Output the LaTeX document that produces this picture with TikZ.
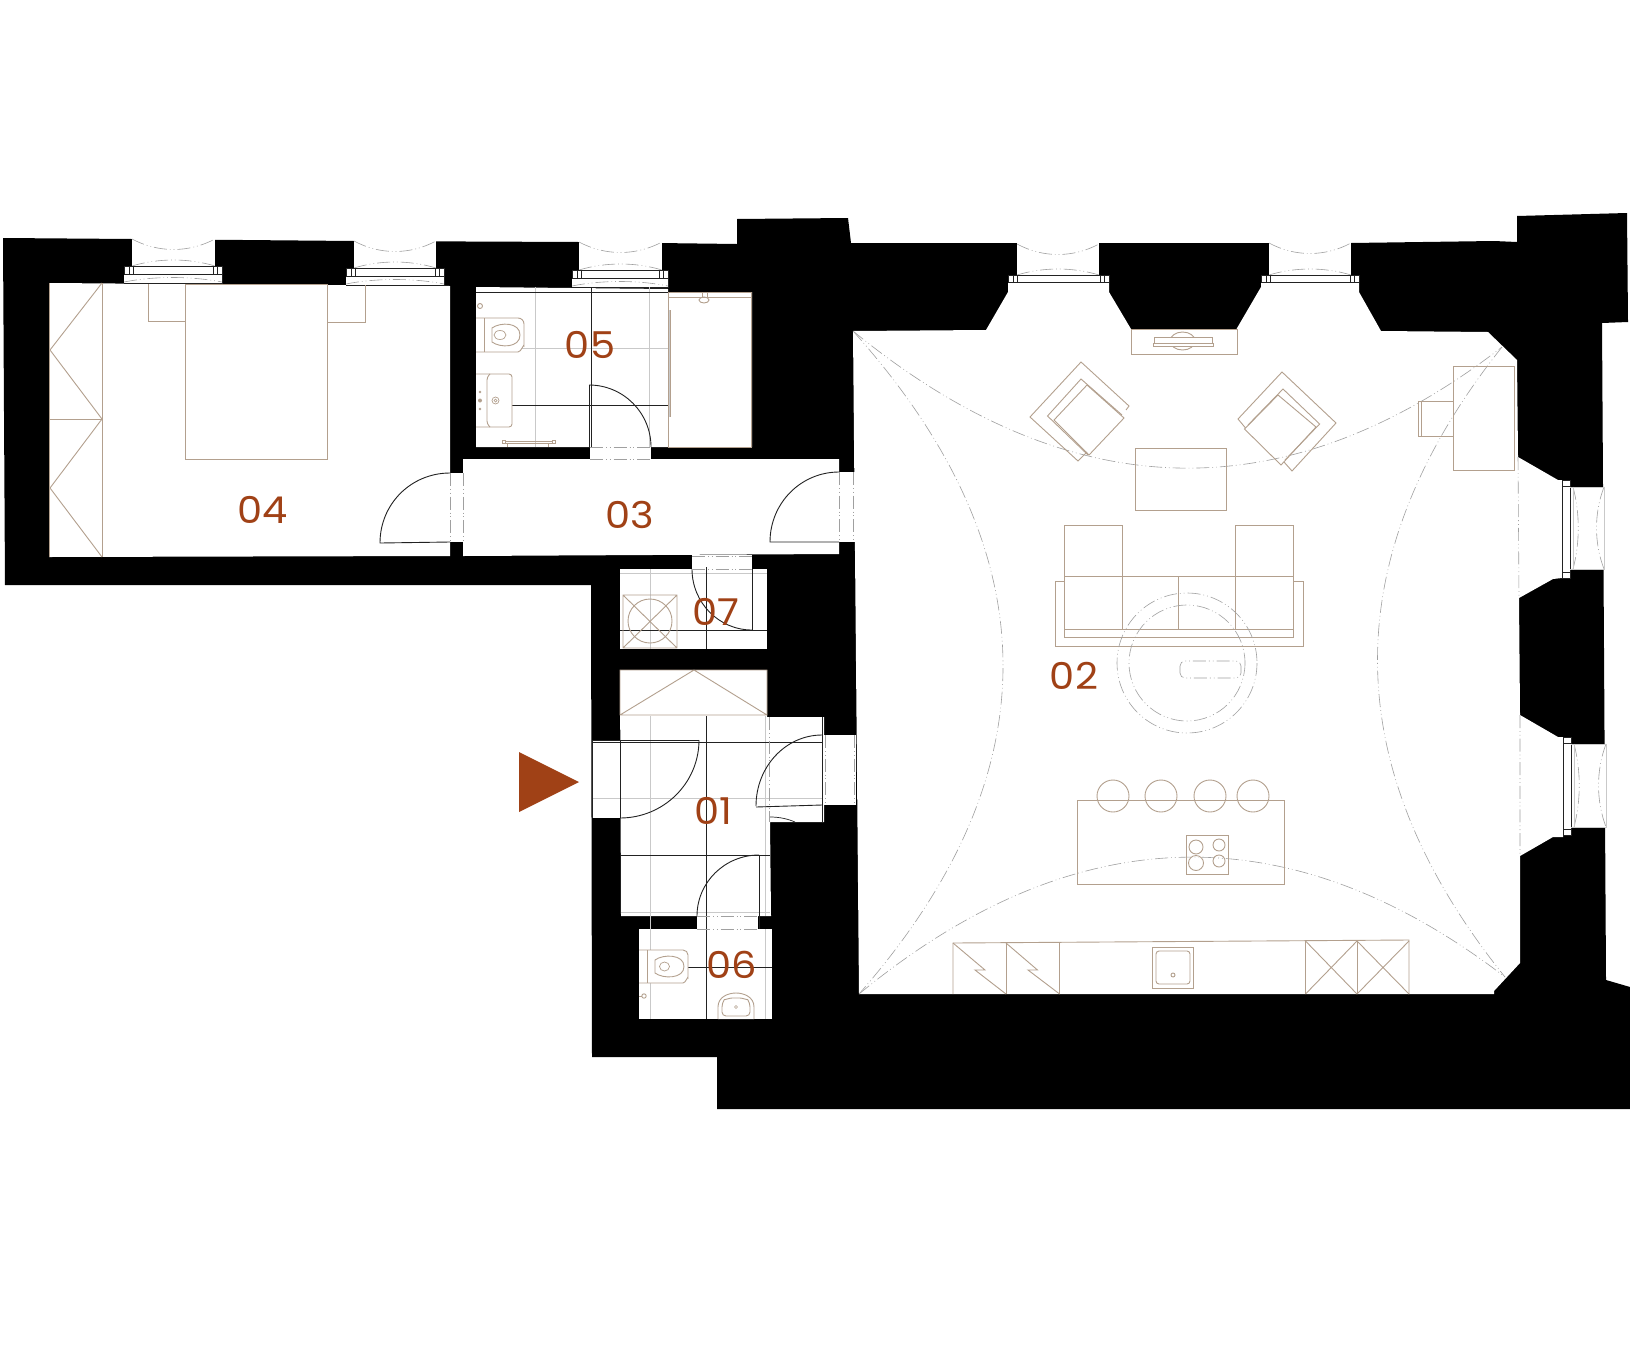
\documentclass[tikz,border=0pt]{standalone}
\usepackage{fontspec}
\usetikzlibrary{calc}
\newfontfamily\lblfont{Poppins}
\definecolor{rust}{HTML}{A04116}
\definecolor{tanc}{HTML}{B3A08E}
\definecolor{greyc}{HTML}{C9C9C9}
\definecolor{darkc}{HTML}{222222}
\definecolor{ddc}{HTML}{A0A0A0}
\tikzset{
  tanl/.style={draw=tanc,line width=0.9pt,line join=miter},
  greyl/.style={draw=greyc,line width=0.9pt},
  darkl/.style={draw=darkc,line width=0.9pt},
  ddl/.style={draw=ddc,line width=0.6pt,dash pattern=on 13pt off 3pt on 0.8pt off 3pt on 0.8pt off 3pt},
  roomlabel/.style={text=rust,font=\lblfont\fontsize{37}{40}\selectfont,inner sep=0pt,anchor=center,xscale=1.08},
  wallfill/.style={fill=black,draw=none},
  roomfill/.style={fill=white,draw=none}
}
% quarter arc from a to b around c
\newcommand{\qarc}[6]{%
  \coordinate (qa) at (#1,#2);\coordinate (qb) at (#3,#4);\coordinate (qc) at (#5,#6);
  \draw[darkl] (qa) .. controls ($(qa)+0.5523*(qb)-0.5523*(qc)$) and ($(qb)+0.5523*(qa)-0.5523*(qc)$) .. (qb);}
% top window: frame l r, reveal l r, reveal top, frame top, bar bottom, frame bottom
\newcommand{\topwin}[8]{%
  \fill[white] (#3,#5-4) rectangle (#4,#6);
  \fill[white] (#1,#6) rectangle (#2,#8);
  \pgfmathsetmacro{\wm}{(#3+#4)/2}
  \draw[ddl] (#3,#5) .. controls (\wm-15,#5+14) and (\wm+15,#5+14) .. (#4,#5);
  \draw[ddl] (#3,#6) .. controls (\wm-15,#6-8) and (\wm+15,#6-8) .. (#4,#6);
  \draw[darkl] (#1,#6) rectangle (#2,#7);
  \draw[darkl,line width=0.7pt] (#1+5,#6) -- (#1+5,#7) (#1+9,#6) -- (#1+9,#7) (#2-9,#6) -- (#2-9,#7) (#2-5,#6) -- (#2-5,#7);
}
% right window: reveal y top bottom, frame y top bottom, frame x l r, reveal x l r
\newcommand{\sidewin}[8]{%
  \fill[white] (#6,#1) rectangle (#8+2,#2);
  \fill[white] (#5,#3) rectangle (#6,#4);
  \pgfmathsetmacro{\wm}{(#1+#2)/2}
  \draw[ddl] (#7,#1) .. controls (#7+7,\wm-15) and (#7+7,\wm+15) .. (#7,#2);
  \draw[ddl] (#8,#1) .. controls (#8-10,\wm-15) and (#8-10,\wm+15) .. (#8,#2);
  \draw[darkl] (#5,#3) rectangle (#6,#4);
  \draw[darkl,line width=0.7pt] (#5,#3+6) -- (#6,#3+6) (#5,#4-6) -- (#6,#4-6);
  \draw[greyl] (#6,#1) -- (#8,#1) -- (#8,#2) -- (#6,#2) (#7,#1) -- (#7,#2);
}
\begin{document}
\begin{tikzpicture}[x=1pt,y=-1pt]
\useasboundingbox (0,0) rectangle (1630,1360);
\fill[white] (0,0) rectangle (1630,1360);
% ---- walls ----
\path[wallfill] (3,238) -- (132,239) -- (354,241) -- (579,242) -- (737,244) -- (737,219) -- (848,218) -- (851,243)
  -- (1351,243) -- (1494,241) -- (1517,242) -- (1517,216) -- (1627,213) -- (1628,322) -- (1602,323) -- (1606,980)
  -- (1630,987) -- (1630,1109) -- (717,1109) -- (717,1057) -- (592,1057) -- (591,585) -- (5,585) -- cycle;
% ---- rooms ----
\path[roomfill] (49,283) -- (450,286) -- (450,556) -- (49,557) -- cycle;
\path[roomfill] (449,473) rectangle (464,542);
\path[roomfill] (463,459) -- (839,459) -- (839,554) -- (463,556) -- cycle;
\path[roomfill] (838,472) rectangle (855,542);
\path[roomfill] (476,287) -- (668,289) -- (668,292) -- (752,292) -- (752,447) -- (476,447) -- cycle;
\path[roomfill] (590,446) rectangle (651,460);
\path[roomfill] (692,555) rectangle (752,570);
\path[roomfill] (620,569) rectangle (767,649);
\path[roomfill] (620,670) -- (767,670) -- (767,717) -- (824,717) -- (824,822) -- (770,822) -- (771,916) -- (621,916) -- cycle;
\path[roomfill] (591.5,740) rectangle (621,818);
\path[roomfill] (823,735) rectangle (856,805);
\path[roomfill] (697,915) rectangle (758,930);
\path[roomfill] (639,929) rectangle (772,1019);
\path[roomfill] (853,331) -- (986,330) -- (1008,292) -- (1008,282) -- (1109,282) -- (1109,292) -- (1131,329) -- (1236.5,329)
  -- (1261,287) -- (1261,282) -- (1359,282) -- (1359,292) -- (1381,331) -- (1488,332) -- (1517,360) -- (1518,457)
  -- (1558,480) -- (1562,480) -- (1562,578) -- (1553,579) -- (1519,598) -- (1520,715) -- (1558,737) -- (1563,737)
  -- (1563,837) -- (1553,837) -- (1520,856) -- (1520,963) -- (1494,991) -- (1494,994) -- (859,994) -- cycle;
% ---- windows ----
\topwin{124}{222}{132}{215}{239}{266}{274}{283}
\draw[ddl] (124,282) .. controls (155,276) and (190,276) .. (222,282);
\draw[darkl] (124,283) -- (222,283) -- (222,274);
\topwin{346}{444}{354}{436}{241}{268}{276}{285}
\draw[ddl] (346,284) .. controls (376,278) and (414,278) .. (444,284);
\draw[darkl] (346,285) -- (444,285) -- (444,276);
\topwin{572}{668}{579}{662}{242}{270}{278}{287}
\draw[ddl] (572,286) .. controls (602,280) and (638,280) .. (668,286);
\draw[darkl] (572,287) -- (668,287) -- (668,278);
\topwin{1008}{1109}{1017}{1099}{244}{275}{282}{282}
\topwin{1261}{1359}{1269}{1351}{243}{275}{282}{282}
\sidewin{487}{569}{480}{578}{1562}{1570}{1573}{1604}
\sidewin{744}{827}{737}{835}{1563}{1571}{1574}{1606}
% ---- floor grid lines ----
\draw[greyl] (535,287) -- (535,447) (649,287) -- (649,447) (476,348) -- (668,348);
\draw[darkl] (476,292) -- (668,292) (512,405) -- (668,405) (591,287) -- (591,447);
\draw[greyl] (650,569) -- (650,649) (620,573) -- (767,573) (650,716) -- (650,1019)
  (765,716) -- (765,916) (765,929) -- (765,1019) (592,798) -- (822,798) (621,912) -- (770,912);
\draw[darkl] (706,567) -- (706,649) (620,630) -- (767,630) (706,716) -- (706,1019)
  (592,742) -- (822,742) (621,855) -- (770,855) (688,967) -- (772,967)
  (620,740) -- (620,818) (592,740) -- (592,818) (822,717) -- (822,822) (759,855) -- (759,929);
% ---- doors ----
\draw[darkl] (450,473) .. controls (411,473) and (380,504) .. (380,543) -- (450,542);
\draw[darkl] (839,472) .. controls (801,472) and (770,503) .. (770,542) -- (839,542);
\draw[darkl] (589,447) -- (589,385);
\qarc{589}{385}{651}{447}{589}{447}
\draw[darkl] (752,569) -- (752,630);
\qarc{752}{630}{692}{569}{752}{569}
\draw[darkl] (592,740) -- (699,740);
\qarc{699}{740}{620}{818}{620}{740}
\draw[darkl] (756,807) -- (822,805);
\qarc{822}{735}{756}{806}{822}{806}
\draw[darkl,line width=0.7pt] (770,817) .. controls (780,817) and (788,819) .. (795,822);
\qarc{759}{855}{697}{916}{759}{916}
% door thresholds
\draw[ddl] (450,473) -- (450,542) (463,473) -- (463,542);
\draw[ddl] (839,472) -- (839,542) (853,472) -- (853,542);
\draw[ddl] (590,447) -- (651,447) (590,459) -- (651,459);
\draw[ddl] (692,556) -- (752,556) (692,569) -- (752,569);
\draw[ddl] (769,717) -- (769,822) (825,735) -- (825,805) (854,735) -- (854,805);
\draw[ddl] (697,916) -- (758,916) (697,929) -- (758,929);
% ---- bedroom furniture ----
\draw[tanl] (49,283) -- (49,557) (102,283) -- (102,557) (49,419) -- (102,419);
\draw[tanl] (102,283) -- (50,350) -- (102,419) -- (50,488) -- (102,557);
\draw[tanl] (185.5,284) rectangle (327.5,459);
\draw[tanl] (148,284) -- (148,321) -- (185.5,321);
\draw[tanl] (327.5,322) -- (365,322) -- (365,285);
% ---- bathroom ----
\draw[tanl,fill=white] (476,318) -- (518,318) to[out=0,in=90] (524,324) -- (524,346) to[out=90,in=0] (518,352) -- (476,352);
\draw[tanl] (484,318) -- (484,352);
\draw[tanl] (492,328) .. controls (500,322) and (520,322) .. (520,335) .. controls (520,348) and (500,348) .. (492,342) -- cycle;
\draw[tanl,line width=0.7pt] (500,335) ellipse [x radius=6,y radius=4.5];
\draw[tanl] (480,306) circle [radius=2.5];
\draw[tanl,fill=white,rounded corners=3pt] (476,374) -- (512,374) -- (512,427) -- (476,427);
\draw[tanl,rounded corners=3pt] (490,374) -- (487,377) -- (487,424) -- (490,427);
\fill[tanc] (480,392) circle [radius=1.3] (480,400.5) circle [radius=2] (480,409) circle [radius=1.3];
\draw[tanl,line width=0.7pt] (495.5,400.5) circle [radius=3.5] (495.5,400.5) circle [radius=1.5];
\draw[tanl,line width=0.7pt] (502,440) rectangle (505,443.5) (552,440) rectangle (555,443.5) (505,441) -- (552,441) (505,443) -- (552,443) (507,443.5) -- (507,447) (548,443.5) -- (548,447);
\draw[tanl] (668,292) -- (668,447) -- (751.5,447) -- (751.5,292) -- cycle (668,297) -- (751.5,297);
\draw[greyl] (669,310) -- (669,417);
\draw[tanl] (670,310) -- (670,417);
\draw[tanl,fill=white] (704,300) ellipse [x radius=5,y radius=3];
\draw[tanl,line width=0.7pt] (702,292) rectangle (707,297);
% ---- washer ----
\draw[tanl] (623,595) rectangle (677,648) (623,595) -- (677,648) (677,595) -- (623,648);
\draw[tanl] (650,621) circle [radius=22];
% ---- hall closet ----
\draw[tanl] (620,670) rectangle (767,715) (620,715) -- (694,670) -- (767,715);
% ---- WC ----
\draw[tanl,fill=white] (639,950) -- (683,950) to[out=0,in=90] (688,955) -- (688,978) to[out=90,in=0] (683,983) -- (639,983);
\draw[tanl] (647,950) -- (647,983);
\draw[tanl] (655,960) .. controls (663,954) and (684,954) .. (684,966.5) .. controls (684,979) and (663,979) .. (655,973) -- cycle;
\draw[tanl,line width=0.7pt] (664.5,966.5) ellipse [x radius=5,y radius=4.5];
\draw[tanl] (644,996) circle [radius=2.2];
\draw[tanl] (639,996) -- (642,996);
\draw[tanl,fill=white] (718,1019) -- (718,1007) .. controls (718,997) and (728,993) .. (736,993) .. controls (744,993) and (754,997) .. (754,1007) -- (754,1019);
\draw[tanl,rounded corners=4pt] (722,1016) -- (722,1003) .. controls (724,1000) and (730,998) .. (736,998) .. controls (742,998) and (748,1000) .. (750,1003) -- (750,1016) -- cycle;
\draw[tanl,line width=0.6pt] (736,1007) circle [radius=1.5];
% ---- vault lines ----
\draw[ddl] (853,331) .. controls (1069,508) and (1286,514) .. (1502,347);
\draw[ddl] (859,994) .. controls (1074,817) and (1290,812) .. (1505,977);
\draw[ddl] (853,331) .. controls (1051,552) and (1053,773) .. (859,994);
\draw[ddl] (1502,347) .. controls (1335,557) and (1336,767) .. (1505,977);
\draw[ddl] (1518,457) -- (1519,598) (1520,715) -- (1520,856);
% ---- TV unit ----
\draw[tanl] (1131,329) rectangle (1237.5,354);
\draw[tanl] (1182.6,341) ellipse [x radius=12.5,y radius=9];
\draw[tanl,fill=white] (1153,343) rectangle (1213,346);
\draw[tanl,fill=white] (1154,343) -- (1154,337) -- (1212,337) -- (1212,343) -- cycle;
% ---- armchairs ----
\draw[tanl] (1126,410) -- (1129,406) -- (1081,362) -- (1030,417) -- (1078,461) -- (1087,452);
\draw[tanl] (1122,415) -- (1081,379) -- (1047.5,416) -- (1088,455);
\draw[tanl] (1054,420) -- (1087,385) -- (1124,418) -- (1089,455) -- cycle;
\draw[tanl] (1245.5,428) -- (1238,419) -- (1282,372) -- (1336,423) -- (1292,471) -- (1284,462);
\draw[tanl] (1248,425) -- (1283,389) -- (1319.6,424) -- (1285,460);
\draw[tanl] (1278,395) -- (1316,427) -- (1281,465) -- (1244.5,429) -- cycle;
% ---- coffee table ----
\draw[tanl] (1135,448) rectangle (1226,510);
% ---- sofa ----
\draw[tanl] (1064,525) rectangle (1122,576) (1235,525) rectangle (1293,576);
\draw[tanl] (1064,576) rectangle (1293,637) (1064,629) -- (1293,629);
\draw[tanl] (1122,576) -- (1122,629) (1178,576) -- (1178,629) (1235,576) -- (1235,629);
\draw[tanl] (1064,581) -- (1055,581) -- (1055,646) -- (1303,646) -- (1303,581) -- (1293,581);
\draw[ddl] (1187,663) circle [radius=70] (1187,663) circle [radius=58];
\draw[ddl,rounded corners=5pt] (1180,661) rectangle (1241,678);
% ---- desk ----
\draw[tanl] (1453.6,366) rectangle (1514.6,470);
\draw[tanl] (1453.6,401) -- (1418,401) -- (1418,436) -- (1453.6,436) (1421,401) -- (1421,436);
% ---- island ----
\draw[tanl] (1077,800) rectangle (1284,884);
\foreach \sx in {1113,1161,1210,1253} \draw[tanl] (\sx,796) circle [radius=16];
\draw[tanl] (1186,835) rectangle (1228,874);
\draw[tanl] (1196,847) circle [radius=7] (1219,845) circle [radius=6] (1196,863) circle [radius=7.5] (1219,861) circle [radius=6];
% ---- kitchen counter ----
\draw[tanl] (953,994) -- (953,943) -- (1409,940) -- (1409,994);
\draw[tanl] (1006,943) -- (1006,994) (1059.6,943) -- (1059.6,994) (1305.5,941) -- (1305.5,994) (1357,941) -- (1357,994);
\draw[tanl] (953,943) -- (985,970) -- (975,970) -- (1006,994);
\draw[tanl] (1006,943) -- (1037.5,970) -- (1028,970) -- (1059.6,994);
\draw[tanl] (1305.5,941) -- (1357,994) (1357,941) -- (1305.5,994) (1357,941) -- (1409,994) (1409,941) -- (1357,994);
\draw[tanl] (1152,947) rectangle (1193.6,988);
\draw[tanl,rounded corners=3pt] (1156,951) rectangle (1190,984);
\draw[tanl] (1173,975) circle [radius=2];
% ---- entry marker ----
\fill[rust] (519,752) -- (579,782) -- (519,812) -- cycle;
% ---- labels ----
\node[roomlabel] (r01) at (713,811) {01};
\node[roomlabel] (r02) at (1074,676) {02};
\node[roomlabel] (r03) at (630,515) {03};
\node[roomlabel] (r04) at (263,510) {04};
\node[roomlabel] (r05) at (590,345) {05};
\node[roomlabel] (r06) at (732,965) {06};
\node[roomlabel] (r07) at (716,612) {07};
\end{tikzpicture}
\end{document}
